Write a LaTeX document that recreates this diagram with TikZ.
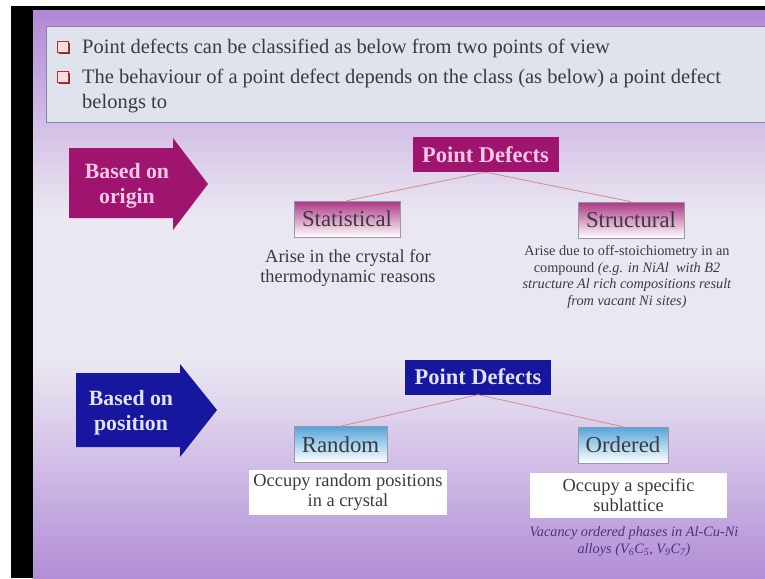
\documentclass[tikz,border=0pt]{standalone}
\usepackage{fontspec}
\setmainfont{Liberation Serif}
\usetikzlibrary{shadows}
\definecolor{magdark}{RGB}{158,20,110}
\definecolor{navy}{RGB}{22,22,158}
\definecolor{pinklight}{RGB}{250,200,226}
\definecolor{bluelight}{RGB}{226,226,255}
\definecolor{textgray}{RGB}{58,58,68}
\definecolor{boxedge}{RGB}{150,150,165}
\definecolor{linkpink}{RGB}{205,140,150}
\definecolor{bulletred}{RGB}{190,40,60}
\definecolor{bulletfill}{RGB}{245,222,226}
\definecolor{topbox}{RGB}{223,227,235}
\definecolor{topedge}{RGB}{140,128,170}
\definecolor{notecol}{RGB}{72,52,130}
\definecolor{bgtop}{RGB}{176,136,214}
\definecolor{bghigh}{RGB}{214,196,232}
\definecolor{bgmid}{RGB}{234,231,241}
\definecolor{bglow}{RGB}{212,194,232}
\definecolor{bgbot}{RGB}{178,142,214}
\pgfdeclareverticalshading{slidebg}{100bp}{color(0bp)=(bgbot); color(25bp)=(bgbot); color(36bp)=(bglow); color(44bp)=(bgmid); color(57bp)=(bgmid); color(64bp)=(bghigh); color(75bp)=(bgtop); color(100bp)=(bgtop)}
\begin{document}
\begin{tikzpicture}[x=1pt,y=-1pt,
    every node/.style={inner sep=0pt},
    pdbox/.style={minimum width=146pt,minimum height=35pt,font=\fontsize{22.5}{26}\selectfont\bfseries},
    subbox/.style={draw=boxedge,line width=0.6pt,minimum height=36pt,font=\fontsize{22.8}{26}\selectfont,text=textgray},
    descbox/.style={align=center,font=\fontsize{18.4}{20}\selectfont,text=textgray},
    smallnote/.style={align=center,font=\fontsize{14.3}{16.5}\selectfont},
    arrowtext/.style={align=center,font=\fontsize{21.8}{25}\selectfont\bfseries},
    link/.style={draw=linkpink,line width=0.8pt},
    sqbullet/.style={draw=bulletred,fill=bulletfill,line width=1pt,minimum size=11pt,
      drop shadow={shadow xshift=1.5pt,shadow yshift=-1.5pt,fill=bulletred!60!black,opacity=0.9}},
    toptext/.style={anchor=base west,font=\fontsize{20.5}{25}\selectfont,text=textgray}]
  \useasboundingbox (0,0) rectangle (765,578);
  % slide and frame
  \shade[shading=slidebg] (33,10) rectangle (765,578);
  \fill[black] (11,6) rectangle (33,578);
  \fill[black] (11,6) rectangle (765,10);
  \filldraw[fill=topbox,draw=topedge,line width=1pt] (46,27) rectangle (767,122);
  \node[sqbullet] (b1) at (63,47) {};
  \node[sqbullet] (b2) at (63,77) {};
  \node[toptext] (line1) at (82,53) {Point defects can be classified as below from two points of view};
  \node[toptext] (line2) at (82,83) {The behaviour of a point defect depends on the class (as below) a point defect};
  \node[toptext] (line3) at (82,108) {belongs to};

  % based on origin
  \fill[magdark] (69,148) -- (173,148) -- (173,138) -- (208,184) -- (173,230) -- (173,218) -- (69,218) -- cycle;
  \node[arrowtext,text=pinklight] (origin) at (127,186) {Based on\\origin};
  \node[pdbox,fill=magdark,text=pinklight] (pd1) at (485.5,154.5) {Point Defects};
  \node[subbox,minimum width=106pt,top color=magdark!85!white,middle color=magdark!22!white,bottom color=white] (stat) at (347,219) {Statistical};
  \node[subbox,minimum width=106pt,top color=magdark!85!white,middle color=magdark!22!white,bottom color=white] (struct) at (631,220) {Structural};
  \draw[link] (pd1.south) -- (stat.north);
  \draw[link] (pd1.south) -- (struct.north);
  \node[descbox] (statdesc) at (348,268) {Arise in the crystal for\\thermodynamic reasons};
  \node[smallnote,text=textgray] (structdesc) at (627,277) {Arise due to off-stoichiometry in an\\compound \textit{(e.g. in NiAl\enspace with B2}\\\textit{structure Al rich compositions result}\\\textit{from vacant Ni sites)}};

  % based on position
  \fill[navy] (76,373) -- (180,373) -- (180,364) -- (217,410) -- (180,457) -- (180,447) -- (76,447) -- cycle;
  \node[arrowtext,text=bluelight] (position) at (131,413) {Based on\\position};
  \node[pdbox,fill=navy,text=bluelight] (pd2) at (478,377) {Point Defects};
  \node[subbox,minimum width=93pt,top color=navy!55!cyan!70!white,middle color=navy!12!white,bottom color=white] (random) at (340.5,444.5) {Random};
  \node[subbox,minimum width=90pt,top color=navy!55!cyan!70!white,middle color=navy!12!white,bottom color=white] (ordered) at (623,445) {Ordered};
  \draw[link] (pd2.south) -- (random.north);
  \draw[link] (pd2.south) -- (ordered.north);
  \node[descbox,fill=white,minimum width=198pt,minimum height=45pt] (randdesc) at (348,492.5) {Occupy random positions\\in a crystal};
  \node[descbox,fill=white,minimum width=197pt,minimum height=45pt] (orddesc) at (628.5,495.5) {Occupy a specific\\sublattice};
  \node[smallnote,text=notecol,font=\fontsize{14.3}{16.5}\selectfont\itshape] (ordnote) at (634,541.5) {Vacancy ordered phases in Al-Cu-Ni\\alloys (V\textsubscript{6}C\textsubscript{5}, V\textsubscript{9}C\textsubscript{7})};
\end{tikzpicture}
\end{document}
